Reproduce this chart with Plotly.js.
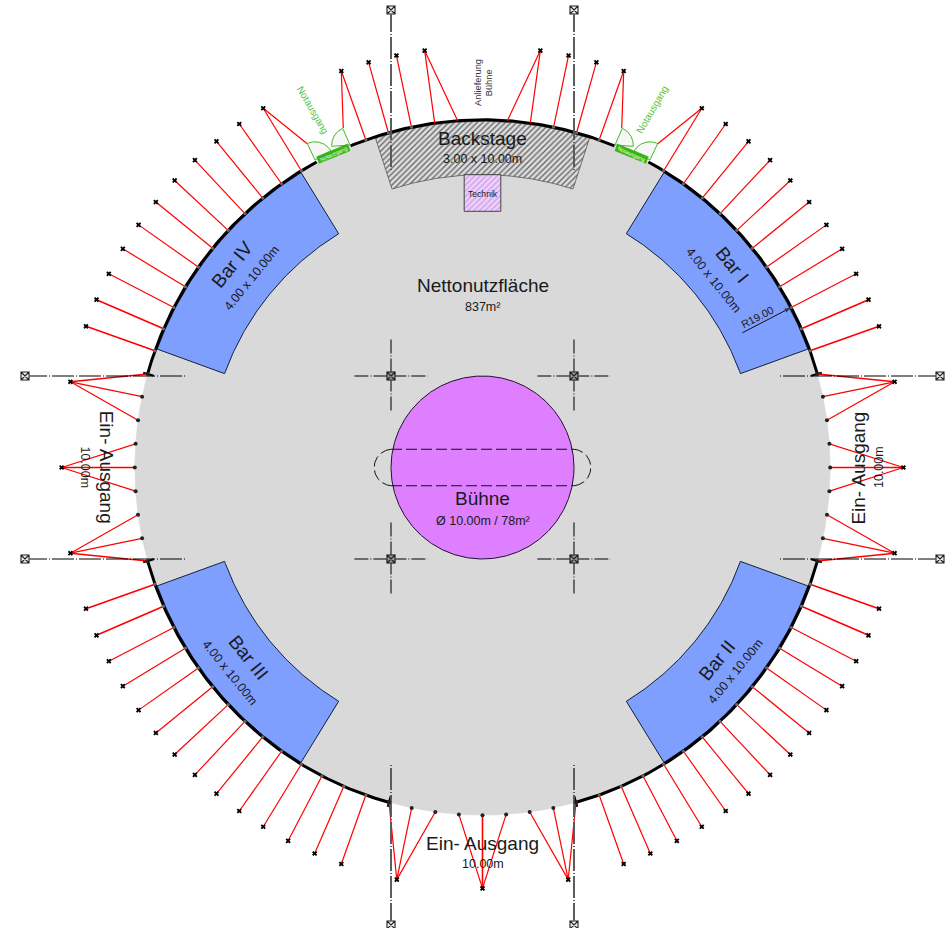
<!DOCTYPE html>
<html>
<head>
<meta charset="utf-8">
<script src="https://cdn.plot.ly/plotly-3.0.1.min.js"></script>
<style>html,body{margin:0;padding:0;background:#fff}#plot{width:951px;height:928px}</style>
</head>
<body>
<div id="plot"></div>
<script>
// ---- plan values, in metres and degrees ----
const hallRadius = 19, anchorRadius = 23, barInnerRadius = 15, backstageInnerRadius = 16;
const stageRadius = 5, columnOffset = 5, gridOuter = 25, gridInner = 16.25;

const barSpans = [[20, 58.4], [-58.4, -20], [-160, -121.6], [121.6, 160]];
const backstageSpan = [72, 108];
const wallSegments = [[15.7, 61.5], [67.7, 112.3], [118.5, 164.3], [-164.3, -105.5], [-74.5, -15.7]];

const guysUpperRight = [19.6, 23.5, 27.4, 31.3, 35.2, 39.1, 43.0, 46.9, 50.8, 54.7, 58.6, 70.4, 74.3, 78.2];
const guysUpperLeft = [160.4, 156.5, 152.6, 148.7, 144.8, 140.9, 137.0, 133.1, 129.2, 125.3, 121.4, 109.6, 105.7, 101.8];
const guysLowerRight = [-19.6, -23.5, -27.4, -31.3, -35.2, -39.1, -43.0, -46.9, -50.8, -54.7, -58.6, -62.5, -66.5, -70.4];
const guysLowerLeft = [-160.4, -156.5, -152.6, -148.7, -144.8, -140.9, -137.0, -133.1, -129.2, -125.3, -121.4, -117.5, -113.5, -109.6];
const heavyGuys = [19.6, 23.5, -19.6, -23.5, 160.4, 156.5, -160.4, -156.5];

const fanAnchors = [11.75, 0, -11.75, 168.25, 180, -168.25, -90, -101.75, -78.25, 97.9, 82.1];
const fanWalls = [[15.6, 11.75, 7.8], [3.9, 0, -3.9], [-7.8, -11.75, -15.6],
  [164.4, 168.25, 172.2], [176.1, 180, -176.1], [-172.2, -168.25, -164.4],
  [-93.9, -90, -86.1], [-105.6, -101.75, -97.8], [-74.4, -78.25, -82.2], [97.9, 94.1], [85.9, 82.1]];
const heavyFanWalls = [15.6, 0, -15.6, 164.4, 180, -164.4, -90];
const entryDots = [15.6, 11.75, 7.8, 3.9, 0, -3.9, -7.8, -11.75, -15.6,
  164.4, 168.25, 172.2, 176.1, 180, -176.1, -172.2, -168.25, -164.4,
  -105.6, -101.75, -97.8, -93.9, -90, -86.1, -82.2, -78.25, -74.4];
const wallStubs = [15.6, -15.6, 164.4, -164.4, -105.6, -74.4];

const doorLeafTips = [[67.7, 20.05, 70.4], [61.6, 20.1, 58.6], [112.3, 20.05, 109.6], [118.4, 20.1, 121.4]];
const doorPlateX = [7.37, 9.06, 8.93, 7.24];
const doorPlateY = [17.68, 16.98, 16.62, 17.31];
const leafHinges = [[7.24, 17.62, 67, -4], [9.15, 16.8, 65, 150]];

const stageLinesY = [1, -1];
const dimensionAngle = 27.4;

const labelTexts = ['Nettonutzfläche', '837m²', 'Backstage', '3.00 x 10.00m', 'Technik', 'Bühne', 'Ø 10.00m / 78m²',
  'Bar I', '4.00 x 10.00m', 'Bar II', '4.00 x 10.00m', 'Bar III', '4.00 x 10.00m', 'Bar IV', '4.00 x 10.00m',
  'Ein- Ausgang', '10.00m', 'Ein- Ausgang', '10.00m', 'Ein- Ausgang', '10.00m',
  'Anlieferung', 'Bühne', 'Notausgang', 'Notausgang', 'Notausgang', 'Notausgang', 'R19.00'];
const labelX = [0, 0, 0, 0, 0, 0, 0, 13.62, 12.61, 12.8, 13.8, -12.8, -13.8, -13.67, -12.61,
  0, 0, -20.57, -21.72, 20.54, 21.68, -0.28, 0.36, 9.28, -9.3, 8.15, -8.15, 15.02];
const labelY = [9.97, 8.77, 18.0, 16.86, 14.95, -1.72, -2.92, 11.07, 10.25, -10.52, -11.16, -10.39, -11.23, 11.07, 10.36,
  -20.52, -21.67, 0.04, 0, -0.04, 0.04, 21.03, 21.0, 19.54, 19.54, 17.15, 17.15, 8.21];
const labelSizes = [19, 12.5, 19, 12.5, 8.6, 19, 12.5, 19, 12.5, 19, 12.5, 19, 12.5, 19, 12.5,
  19, 12.5, 19, 12.5, 19, 12.5, 9.3, 9.3, 9.9, 9.9, 5.4, 5.4, 10.8];
const labelAngles = [0, 0, 0, 0, 0, 0, 0, 51, 51, -51, -51, 51, 51, -51, -51,
  0, 0, 90, 90, -90, -90, -90, -90, -60, 60, 24, -24, -27.4];
const labelColors = ['#1a1a1a', '#1a1a1a', '#1a1a1a', '#1a1a1a', '#1a1a1a', '#1a1a1a', '#1a1a1a',
  '#1a1a1a', '#1a1a1a', '#1a1a1a', '#1a1a1a', '#1a1a1a', '#1a1a1a', '#1a1a1a', '#1a1a1a',
  '#1a1a1a', '#1a1a1a', '#1a1a1a', '#1a1a1a', '#1a1a1a', '#1a1a1a', '#333333', '#333333',
  '#55c33a', '#55c33a', '#ffffff', '#ffffff', '#1a1a1a'];

// ---- helpers ----
const rad = d => d * Math.PI / 180;
const pol = (a, r) => [r * Math.cos(rad(a)), r * Math.sin(rad(a))];
function arc(cx, cy, r, a0, a1) {
  const n = Math.max(2, Math.ceil(Math.abs(a1 - a0) / 0.5));
  const xs = [], ys = [];
  for (let i = 0; i <= n; i++) {
    const a = a0 + (a1 - a0) * i / n;
    xs.push(cx + r * Math.cos(rad(a)));
    ys.push(cy + r * Math.sin(rad(a)));
  }
  return [xs, ys];
}
function band(r0, r1, a0, a1) {
  const o = arc(0, 0, r1, a0, a1), i = arc(0, 0, r0, a1, a0);
  return [o[0].concat(i[0], [o[0][0]]), o[1].concat(i[1], [o[1][0]])];
}
function segs(list) {
  const xs = [], ys = [];
  list.forEach(s => { xs.push(s[0][0], s[1][0], null); ys.push(s[0][1], s[1][1], null); });
  return [xs, ys];
}
function joinArcs(list) {
  const xs = [], ys = [];
  list.forEach(a => { xs.push(...a[0], null); ys.push(...a[1], null); });
  return [xs, ys];
}
const base = {type: 'scatter', hoverinfo: 'skip', showlegend: false};
const line = (p, color, width, dash) => Object.assign({}, base, {x: p[0], y: p[1], mode: 'lines', line: {color, width, dash: dash || 'solid'}});
const poly = (p, fill, color, width) => Object.assign({}, base, {x: p[0], y: p[1], mode: 'lines', fill: 'toself', fillcolor: fill, line: {color, width}});
const dots = (p, symbol, size, color, extra) => Object.assign({}, base, {x: p[0], y: p[1], mode: 'markers', marker: Object.assign({symbol, size, color, line: {width: 0}}, extra || {})});

const traces = [];

// floor
traces.push(poly(arc(0, 0, hallRadius, 0, 360), '#d9d9d9', '#d9d9d9', 0.5));

// bars
barSpans.forEach(s => traces.push(poly(band(barInnerRadius, hallRadius - 0.08, s[0], s[1]), '#7f9fff', '#10203f', 1)));

// backstage with hatch
const bs = band(backstageInnerRadius, hallRadius - 0.08, backstageSpan[0], backstageSpan[1]);
traces.push(Object.assign({}, base, {x: bs[0], y: bs[1], mode: 'lines', fill: 'toself', fillcolor: '#dcdcdc',
  fillpattern: {shape: '/', fgcolor: '#6a6a6a', bgcolor: '#dedede', size: 4, solidity: 0.36},
  line: {color: '#555555', width: 0.8}}));

// technik room
traces.push(Object.assign({}, base, {x: [-1, 1, 1, -1, -1], y: [16, 16, 14, 14, 16], mode: 'lines', fill: 'toself', fillcolor: '#ecd0f8',
  fillpattern: {shape: '/', fgcolor: '#d39cf0', bgcolor: '#ecd4f8', size: 4, solidity: 0.35},
  line: {color: '#444444', width: 1}}));

// stage
traces.push(poly(arc(0, 0, stageRadius, 0, 360), '#dd7fff', '#201030', 1));
const dashLines = segs(stageLinesY.map(y => [[-stageRadius, y], [stageRadius, y]]));
traces.push(line(dashLines, '#111111', 1.1, '11px,4px'));
traces.push(line(joinArcs([arc(-4.92, 0, 1, 95, 265), arc(4.92, 0, 1, -85, 85)]), '#111111', 1, '11px,4px'));

// wall
traces.push(line(joinArcs(wallSegments.map(s => arc(0, 0, hallRadius, s[0], s[1]))), '#000000', 3));
traces.push(line(segs(wallStubs.map(a => [pol(a, 18.65), pol(a, 19.25)])), '#000000', 2.2));

// guy ropes
const allGuys = guysUpperRight.concat(guysUpperLeft, guysLowerRight, guysLowerLeft);
const thin = allGuys.filter(a => !heavyGuys.includes(a));
const ropeList = thin.map(a => [pol(a, hallRadius), pol(a, anchorRadius)]);
const heavyList = heavyGuys.map(a => [pol(a, hallRadius), pol(a, anchorRadius)]);
fanAnchors.forEach((a, i) => fanWalls[i].forEach(w => {
  (heavyFanWalls.includes(w) ? heavyList : ropeList).push([pol(w, hallRadius), pol(a, anchorRadius)]);
}));
doorLeafTips.forEach(d => ropeList.push([pol(d[0], d[1]), pol(d[2], anchorRadius)]));
traces.push(line(segs(ropeList), '#ff0000', 1.2));
traces.push(line(segs(heavyList), '#ff0000', 1.6));

// emergency exits (right one, and its mirror)
[1, -1].forEach(m => {
  leafHinges.forEach(h => {
    const a = arc(h[0], h[1], 1, h[2], h[3]);
    const xs = [h[0]].concat(a[0], [h[0]]).map(v => v * m);
    const ys = [h[1]].concat(a[1], [h[1]]);
    traces.push(poly([xs, ys], '#f7f7f7', '#44b822', 1));
  });
  traces.push(poly([doorPlateX.concat(doorPlateX[0]).map(v => v * m), doorPlateY.concat(doorPlateY[0])], '#35b410', '#35b410', 0.6));
});

// grid lines
const outerV = [], outerH = [];
[-columnOffset, columnOffset].forEach(c => {
  outerV.push([[c, gridOuter], [c, gridInner]], [[c, -gridOuter], [c, -gridInner]]);
  outerH.push([[-gridOuter, c], [-gridInner, c]], [[gridOuter, c], [gridInner, c]]);
});
traces.push(line(segs(outerV), '#555555', 1.9, '22px,2px,1px,2px'));
traces.push(line(segs(outerH), '#000000', 1, '22px,2px,1px,2px'));
const innerV = [], innerH = [];
[-columnOffset, columnOffset].forEach(cx => [-columnOffset, columnOffset].forEach(cy => {
  innerV.push([[cx, cy + 2], [cx, cy - 2]]);
  innerH.push([[cx - 2, cy], [cx + 2, cy]]);
}));
traces.push(line(segs(innerV), '#444444', 1.5, '14px,2px,1px,2px'));
traces.push(line(segs(innerH), '#000000', 1, '14px,2px,1px,2px'));

// columns
const innerColX = [-5, 5, -5, 5], innerColY = [5, 5, -5, -5];
const outerColX = [-5, 5, -5, 5, -25, -25, 25, 25], outerColY = [25, 25, -25, -25, 5, -5, 5, -5];
traces.push(dots([innerColX, innerColY], 'square', 9, '#999999'));
traces.push(dots([outerColX, outerColY], 'square', 9, '#f2f2f2'));
traces.push(Object.assign({}, base, {x: innerColX.concat(outerColX), y: innerColY.concat(outerColY), mode: 'markers',
  marker: {symbol: 'square-x-open', size: 8, color: '#222222', line: {color: '#222222', width: 1.1}}}));

// anchor crosses and wall dots
const anchorPts = allGuys.concat(fanAnchors).map(a => pol(a, anchorRadius));
traces.push(dots([anchorPts.map(p => p[0]), anchorPts.map(p => p[1])], 'x', 4.6, '#000000'));
const wallPts = allGuys.map(a => pol(a, hallRadius));
traces.push(dots([wallPts.map(p => p[0]), wallPts.map(p => p[1])], 'circle', 3.2, '#666666'));
const entryPts = entryDots.map(a => pol(a, hallRadius));
traces.push(dots([entryPts.map(p => p[0]), entryPts.map(p => p[1])], 'circle', 4, '#222222'));

// radius dimension
const dimA = pol(dimensionAngle, backstageInnerRadius), dimB = pol(dimensionAngle, hallRadius);
traces.push(Object.assign({}, base, {x: [dimA[0], dimB[0]], y: [dimA[1], dimB[1]], mode: 'lines+markers',
  line: {color: '#111111', width: 1},
  marker: {symbol: ['circle', 'arrow'], size: [1, 7], color: '#111111', angleref: 'previous', line: {width: 0}}}));

const annotations = labelTexts.map((t, i) => ({
  text: t, x: labelX[i], y: labelY[i], xref: 'x', yref: 'y', showarrow: false,
  xanchor: 'center', yanchor: 'middle', textangle: labelAngles[i],
  font: {family: '"Liberation Sans", Arial, sans-serif', size: labelSizes[i], color: labelColors[i]}
}));

const S = 18.3, CX = 482.5, CY = 467.5;
const layout = {
  width: 951, height: 928, margin: {l: 0, r: 0, t: 0, b: 0, pad: 0},
  paper_bgcolor: '#ffffff', plot_bgcolor: '#ffffff', showlegend: false, hovermode: false,
  xaxis: {visible: false, range: [-CX / S, (951 - CX) / S], fixedrange: true},
  yaxis: {visible: false, range: [-(928 - CY) / S, CY / S], fixedrange: true},
  annotations
};
Plotly.newPlot('plot', traces, layout, {displayModeBar: false, staticPlot: true});
</script>
</body>
</html>
